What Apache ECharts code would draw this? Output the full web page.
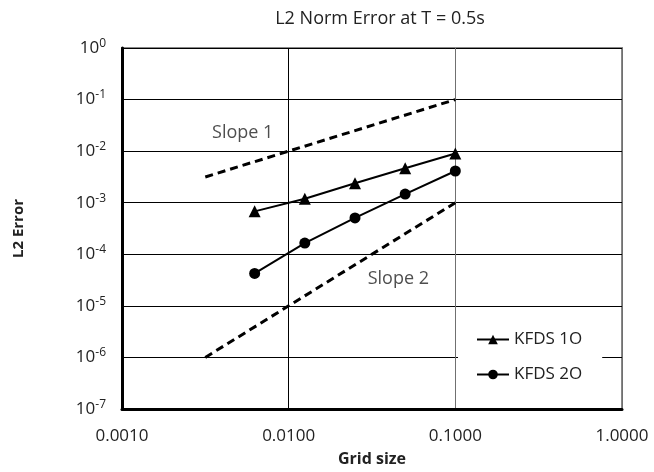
<!DOCTYPE html>
<html>
<head>
<meta charset="utf-8">
<script src="https://cdn.jsdelivr.net/npm/echarts@6/dist/echarts.min.js"></script>
<style>html,body{margin:0;padding:0;background:#fff}#c{width:654px;height:472px}</style>
</head>
<body>
<div id="c"></div>
<script>
const gridSizes = [0.00625, 0.0125, 0.025, 0.05, 0.1];
const kfds1O = [6.8e-4, 1.19e-3, 2.39e-3, 4.65e-3, 9.0e-3];
const kfds2O = [4.26e-5, 1.65e-4, 5.08e-4, 1.47e-3, 4.12e-3];
const slope1X = [0.00316, 0.1];
const slope1Y = [0.00316, 0.1];
const slope2X = [0.00316, 0.1];
const slope2Y = [1e-6, 1e-3];
const slopeLabels = ["Slope 1", "Slope 2"];
const slopeLabelX = [0.0053, 0.0455];
const slopeLabelY = [0.0222, 3.3e-5];
const xTicks = [0.001, 0.01, 0.1, 1];
const yTicks = [1e-7, 1e-6, 1e-5, 1e-4, 1e-3, 1e-2, 1e-1, 1];

const FONT = "'Open Sans', 'Noto Sans', sans-serif";
const zip = (a, b) => a.map((v, i) => [v, b[i]]);

const chart = echarts.init(document.getElementById('c'), null, {renderer: 'canvas'});
chart.setOption({
  animation: false,
  backgroundColor: '#fff',
  title: {
    text: 'L2 Norm Error at T = 0.5s',
    left: 375, top: 5, textAlign: 'center',
    textStyle: {fontFamily: FONT, fontWeight: 'normal', fontSize: 18, color: '#222'}
  },
  grid: {left: 122, right: 32, top: 48, bottom: 60, show: true, borderColor: '#888', borderWidth: 2, backgroundColor: '#fff'},
  legend: {
    orient: 'vertical',
    left: 458, top: 321,
    backgroundColor: '#fff',
    padding: [10, 20, 12, 18],
    itemGap: 18,
    itemWidth: 32, itemHeight: 12,
    data: ['KFDS 1O', 'KFDS 2O'],
    textStyle: {fontFamily: FONT, fontSize: 17, color: '#222'}
  },
  xAxis: {
    type: 'log', logBase: 10, min: xTicks[0], max: xTicks[xTicks.length - 1],
    name: 'Grid size', nameLocation: 'middle', nameGap: 42,
    nameTextStyle: {fontFamily: FONT, fontWeight: 'bold', fontSize: 16, color: '#222'},
    axisLine: {lineStyle: {color: '#000', width: 3}},
    axisTick: {show: false},
    axisLabel: {margin: 19, fontFamily: FONT, fontSize: 17, color: '#222', formatter: v => Number(v).toFixed(4)},
    splitLine: {show: true, lineStyle: {color: ['#000', '#000', '#707070', '#707070'], width: 1}}
  },
  yAxis: {
    type: 'log', logBase: 10, min: yTicks[0], max: yTicks[yTicks.length - 1],
    name: 'L2 Error', nameLocation: 'middle', nameGap: 96, nameRotate: 90,
    nameTextStyle: {fontFamily: FONT, fontWeight: 'bold', fontSize: 15, color: '#222'},
    axisLine: {lineStyle: {color: '#000', width: 3}},
    axisTick: {show: false},
    axisLabel: {
      margin: 16, fontFamily: FONT, color: '#222',
      formatter: v => '{b|10}{s|' + Math.round(Math.log10(v)) + '}',
      rich: {
        b: {fontFamily: FONT, fontSize: 17, color: '#222'},
        s: {fontFamily: FONT, fontSize: 12, color: '#222', verticalAlign: 'top', padding: [0, 0, 9, 0]}
      }
    },
    splitLine: {show: true, lineStyle: {color: '#000', width: 1}}
  },
  series: [
    {
      name: 'Slope 1', type: 'line', data: zip(slope1X, slope1Y), symbol: 'none',
      lineStyle: {color: '#000', width: 3, type: [8, 5]}, z: 3, silent: true
    },
    {
      name: 'Slope 2', type: 'line', data: zip(slope2X, slope2Y), symbol: 'none',
      lineStyle: {color: '#000', width: 3, type: [8, 5]}, z: 3, silent: true
    },
    {
      name: 'KFDS 1O', type: 'line', data: zip(gridSizes, kfds1O),
      symbol: 'triangle', symbolSize: 12,
      itemStyle: {color: '#000'}, lineStyle: {color: '#000', width: 2}, z: 4
    },
    {
      name: 'KFDS 2O', type: 'line', data: zip(gridSizes, kfds2O),
      symbol: 'circle', symbolSize: 11,
      itemStyle: {color: '#000'}, lineStyle: {color: '#000', width: 2}, z: 4
    },
    {
      name: 'labels', type: 'scatter', symbolSize: 0,
      data: slopeLabels.map((t, i) => ({value: [slopeLabelX[i], slopeLabelY[i]], name: t})),
      label: {show: true, position: 'inside', formatter: p => p.name, fontFamily: FONT, fontSize: 18, color: '#222'},
      silent: true, z: 5
    }
  ]
});
</script>
</body>
</html>
